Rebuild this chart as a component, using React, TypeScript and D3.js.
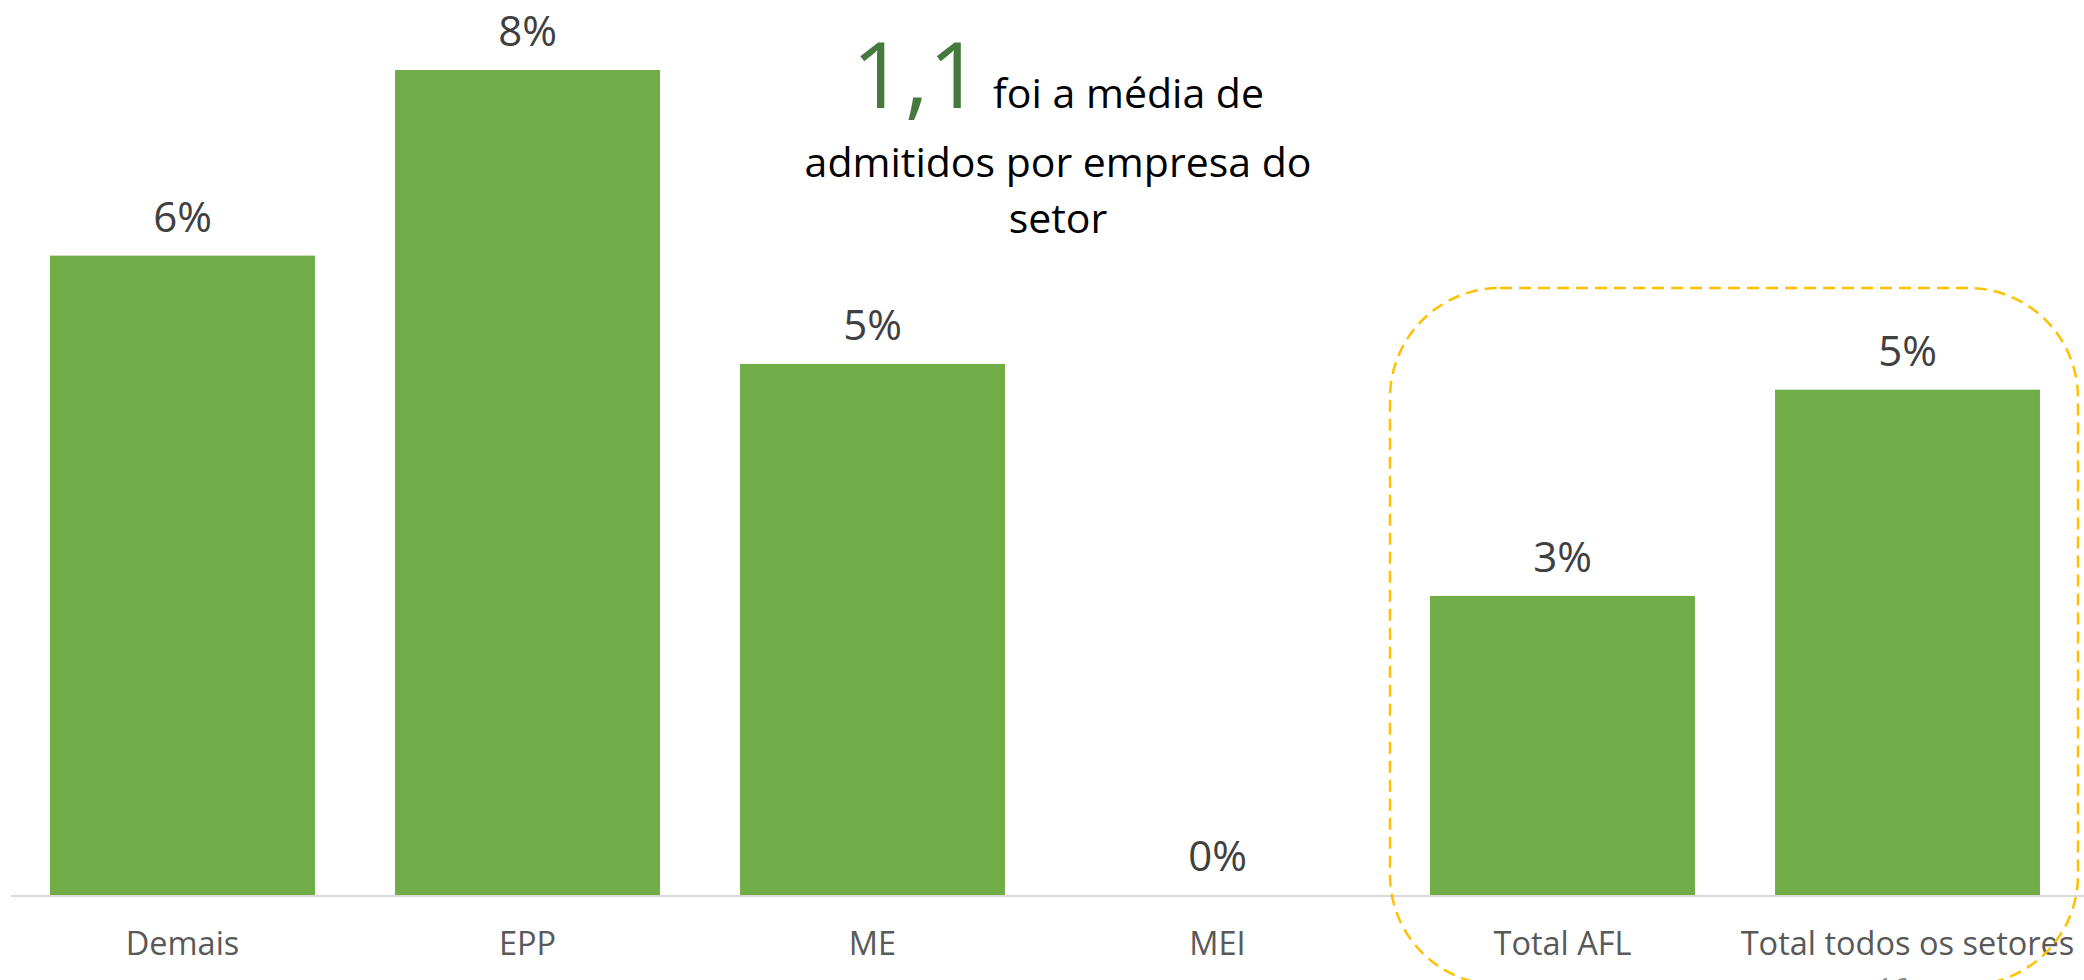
import React, { useEffect, useRef } from "react";
import * as d3 from "d3";

// categorias e valores (%)
const categories = ["Demais", "EPP", "ME", "MEI", "Total AFL", "Total todos os setores"];
const values = [6.2, 8.0, 5.15, 0.0, 2.9, 4.9];
const valueLabels = ["6%", "8%", "5%", "0%", "3%", "5%"];

const highlightValue = "1,1";
const noteLines = ["foi a média de", "admitidos por empresa do", "setor"];
const pageNumber = "16";

const W = 2084;
const H = 980;
const baseY = 895;

function App() {
    const svgRef = useRef<SVGSVGElement>(null);

    useEffect(() => {
        const svg = d3.select(svgRef.current);
        svg.selectAll("*").remove();

        const xScale = d3
            .scaleBand()
            .domain(categories)
            .range([10, 2080])
            .paddingInner(0.232)
            .paddingOuter(0.116);

        const yScale = d3.scaleLinear().domain([0, 8]).range([baseY, 70]);

        const data = categories.map((c, i) => ({ name: c, value: values[i], label: valueLabels[i] }));

        // barras
        svg.selectAll(".bar")
            .data(data)
            .join("rect")
            .attr("class", "bar")
            .attr("x", (d) => xScale(d.name)!)
            .attr("y", (d) => yScale(d.value))
            .attr("width", xScale.bandwidth())
            .attr("height", (d) => baseY - yScale(d.value))
            .attr("fill", "#70AD47");

        // eixo x
        svg.append("line")
            .attr("x1", 11)
            .attr("x2", W)
            .attr("y1", baseY + 1)
            .attr("y2", baseY + 1)
            .attr("stroke", "#D9D9D9")
            .attr("stroke-width", 2);

        // rótulos de valor
        svg.selectAll(".val")
            .data(data)
            .join("text")
            .attr("class", "val")
            .attr("x", (d) => xScale(d.name)! + xScale.bandwidth() / 2)
            .attr("y", (d) => yScale(d.value) - 24)
            .attr("text-anchor", "middle")
            .attr("font-family", "Open Sans")
            .attr("font-size", 42)
            .attr("fill", "#404040")
            .text((d) => d.label);

        // categorias
        svg.selectAll(".cat")
            .data(data)
            .join("text")
            .attr("class", "cat")
            .attr("x", (d) => xScale(d.name)! + xScale.bandwidth() / 2)
            .attr("y", 955)
            .attr("text-anchor", "middle")
            .attr("font-family", "Open Sans")
            .attr("font-size", 32.5)
            .attr("fill", "#595959")
            .text((d) => d.name);

        // destaque retangulo tracejado
        svg.append("rect")
            .attr("x", 1390)
            .attr("y", 288)
            .attr("width", 2078 - 1390)
            .attr("height", 985 - 288)
            .attr("rx", 110)
            .attr("ry", 110)
            .attr("fill", "none")
            .attr("stroke", "#FFC000")
            .attr("stroke-width", 2.5)
            .attr("stroke-dasharray", "12 7");

        // nota
        const note = svg.append("g").attr("font-family", "Open Sans").attr("text-anchor", "middle");
        const line1 = note.append("text").attr("x", 1058).attr("y", 108);
        line1.append("tspan")
            .attr("font-size", 92)
            .attr("fill", "#467A3C")
            .text(highlightValue);
        line1.append("tspan")
            .attr("font-size", 41)
            .attr("fill", "#000")
            .attr("dx", 12)
            .text(noteLines[0]);
        note.append("text").attr("x", 1058).attr("y", 177).attr("font-size", 41).text(noteLines[1]);
        note.append("text").attr("x", 1058).attr("y", 233).attr("font-size", 41).text(noteLines[2]);

        // numero da pagina (cortado, como no slide)
        svg.append("text")
            .attr("x", 1893)
            .attr("y", 998)
            .attr("text-anchor", "middle")
            .attr("font-family", "Open Sans")
            .attr("font-size", 28)
            .attr("fill", "#8C8C8C")
            .text(pageNumber);
    }, []);

    return (
        <svg
            ref={svgRef}
            width={W}
            height={H}
            style={{ position: "absolute", left: 0, top: 0, display: "block", background: "#fff" }}
        ></svg>
    );
}

export default App;
